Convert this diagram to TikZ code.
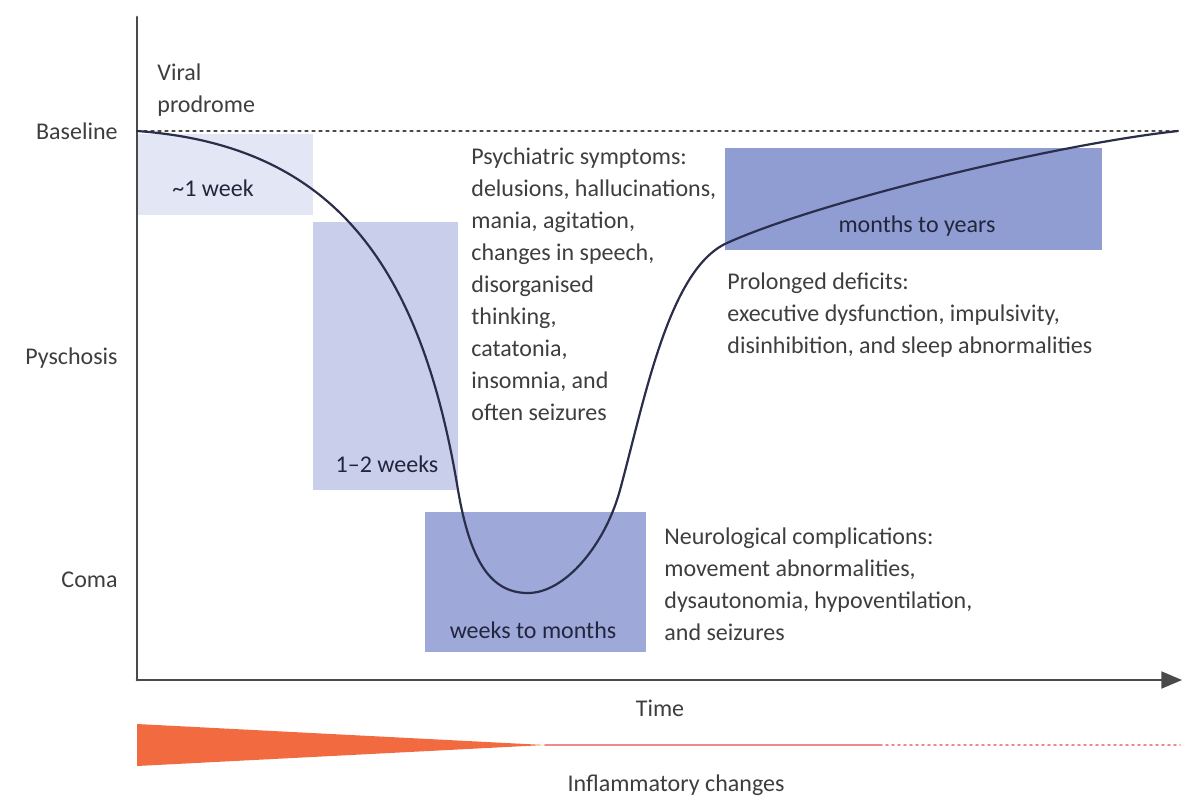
\documentclass[tikz,border=0pt]{standalone}
\usepackage{fontspec}
\setmainfont{Carlito}
\usetikzlibrary{arrows}
\definecolor{txtgray}{HTML}{3E3E3E}
\definecolor{axisgray}{HTML}{4A4A4A}
\definecolor{curveblue}{HTML}{2A2E4A}
\definecolor{boxA}{HTML}{E3E6F4}
\definecolor{boxB}{HTML}{C9CFEA}
\definecolor{boxC}{HTML}{9EA9D9}
\definecolor{boxD}{HTML}{8F9DD2}
\definecolor{inflam}{HTML}{F26A3F}
\definecolor{inflamline}{HTML}{F08A8A}
\tikzset{
  lbl/.style={text=txtgray,inner sep=0pt},
  txtblock/.style={lbl,anchor=north west,align=left},
  boxlbl/.style={text=curveblue!80!black,inner sep=0pt}
}
\begin{document}
\begin{tikzpicture}[line cap=round,line join=round,>=triangle 45,x=0.5pt,y=-0.5pt,
  font=\fontsize{12}{16}\selectfont]
\useasboundingbox (0,0) rectangle (1187,799);
% boxes
\fill [boxA] (137,134) rectangle (313,215);
\fill [boxB] (313,222) rectangle (458,490);
\fill [boxC] (425,512) rectangle (646,652);
\fill [boxD] (725,148) rectangle (1102,250);
\node[boxlbl] (wk1) at (213,188) {\textasciitilde 1 week};
\node[boxlbl] (wk2) at (387,464) {1--2 weeks};
\node[boxlbl] (wkmo) at (533,630) {weeks to months};
\node[boxlbl] (moyr) at (917,226) {months to years};
% axes
\coordinate (o) at (137,680);
\coordinate (ytop) at (137,17);
\coordinate (xend) at (1182,680);
\draw [axisgray,line width=1.4pt] (ytop)--(o);
\draw [axisgray,line width=1.4pt,->] (o)--(xend);
\coordinate (b0) at (137,131);
\coordinate (b1) at (1180,131);
\draw [axisgray,line width=0.6pt,dash pattern=on 1.5pt off 2pt] (b0)--(b1);
\node[lbl,anchor=east] (base) at (118,131) {Baseline};
\node[lbl,anchor=east] (psy) at (118,358) {Pyschosis};
\node[lbl,anchor=east] (coma) at (118,580) {Coma};
\node[lbl] (time) at (660,708) {Time};
% curve
\coordinate (c0) at (137,131);
\coordinate (c1) at (458,490);
\coordinate (cmin) at (528,593);
\coordinate (c2) at (620,490);
\coordinate (c3) at (727,243);
\coordinate (c4) at (1178,131);
\draw [curveblue,line width=1.1pt] (c0) .. controls (330,145) and (420,260) .. (c1)
  .. controls (470,560) and (490,593) .. (cmin)
  .. controls (565,593) and (605,545) .. (c2)
  .. controls (645,398) and (669,269) .. (c3)
  .. controls (815,203) and (1050,145) .. (c4);
% texts
\node[txtblock] (viral) at (157,63) {Viral\\prodrome};
\node[txtblock] (psych) at (471,147) {Psychiatric symptoms:\\delusions, hallucinations,\\mania, agitation,\\changes in speech,\\disorganised\\thinking,\\catatonia,\\insomnia, and\\often seizures};
\node[txtblock] (prol) at (727,272) {Prolonged deficits:\\executive dysfunction, impulsivity,\\disinhibition, and sleep abnormalities};
\node[txtblock] (neuro) at (664,527) {Neurological complications:\\movement abnormalities,\\dysautonomia, hypoventilation,\\and seizures};
% inflammation
\coordinate (w1) at (137,724);
\coordinate (w2) at (137,766);
\coordinate (tip) at (545,745);
\coordinate (lend) at (880,745);
\coordinate (dend) at (1180,745);
\fill [inflam] (w1)--(tip)--(w2)--cycle;
\draw [inflamline,line width=0.8pt] (tip)--(lend);
\draw [inflamline,line width=0.8pt,dash pattern=on 1pt off 2pt] (lend)--(dend);
\node[lbl] (infl) at (676,785) {Inflammatory changes};
\end{tikzpicture}
\end{document}
